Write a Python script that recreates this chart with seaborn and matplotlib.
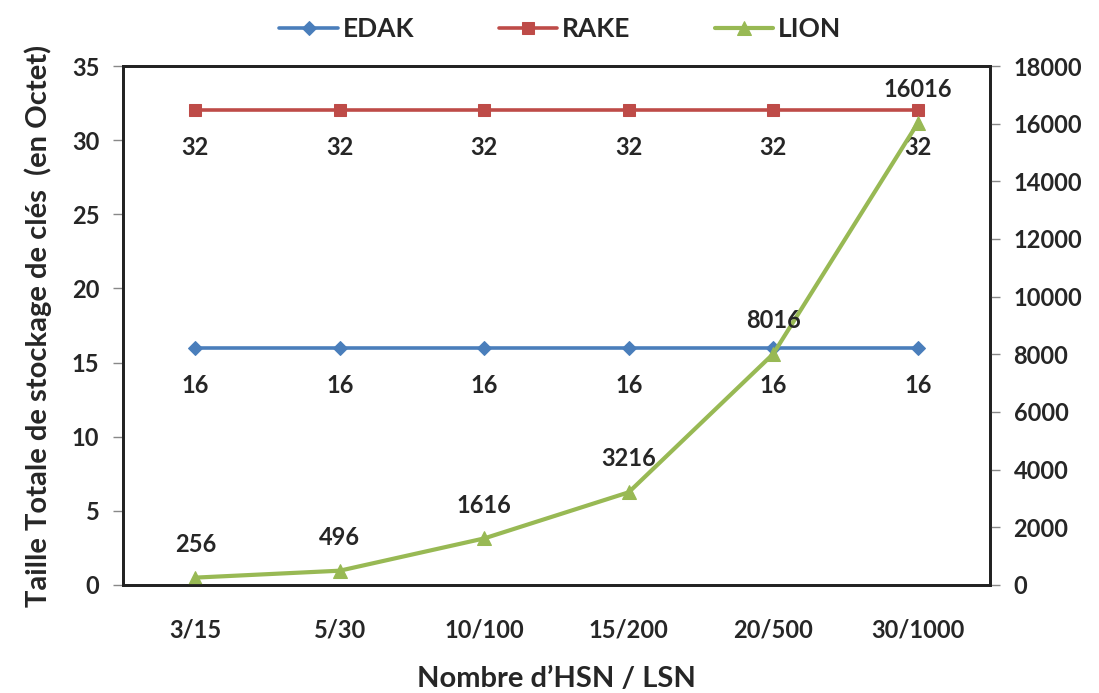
import matplotlib
matplotlib.use("Agg")
import matplotlib.pyplot as plt
import seaborn as sns
import pandas as pd
import numpy as np

# Chart data
categories = ["3/15", "5/30", "10/100", "15/200", "20/500", "30/1000"]
edak = [16, 16, 16, 16, 16, 16]
rake = [32, 32, 32, 32, 32, 32]
lion = [256, 496, 1616, 3216, 8016, 16016]

left_ticks = [0, 5, 10, 15, 20, 25, 30, 35]
right_ticks = [0, 2000, 4000, 6000, 8000, 10000, 12000, 14000, 16000, 18000]

sns.set_theme(style="white")
plt.rcParams['font.family'] = ['Lato', 'DejaVu Sans']
plt.rcParams['font.weight'] = 'bold'

df = pd.DataFrame({
    'pos': np.arange(len(categories)),
    'EDAK': edak,
    'RAKE': rake,
    'LION': lion,
})

fig, ax = plt.subplots(figsize=(10.99, 6.93), dpi=100)
fig.subplots_adjust(left=123/1099, right=990/1099, top=1-66/693, bottom=1-585/693)
ax2 = ax.twinx()

c_edak, c_rake, c_lion = "#4A7EBB", "#BE4B48", "#98B954"

sns.lineplot(data=df, x='pos', y='EDAK', ax=ax, color=c_edak, marker='D', markersize=7,
             linewidth=2.6, markeredgecolor=c_edak, label='EDAK', legend=False)
sns.lineplot(data=df, x='pos', y='RAKE', ax=ax, color=c_rake, marker='s', markersize=9,
             linewidth=2.6, markeredgecolor=c_rake, label='RAKE', legend=False)
sns.lineplot(data=df, x='pos', y='LION', ax=ax2, color=c_lion, marker='^', markersize=10,
             linewidth=3, markeredgecolor=c_lion, label='LION', legend=False)

# data labels
lab_fs = 17
for i, v in enumerate(rake):
    ax.annotate(str(v), (i, v), xytext=(0, -27), textcoords='offset points',
                ha='center', va='center', fontsize=lab_fs, fontweight='bold')
for i, v in enumerate(edak):
    ax.annotate(str(v), (i, v), xytext=(0, -27), textcoords='offset points',
                ha='center', va='center', fontsize=lab_fs, fontweight='bold')
for i, v in enumerate(lion):
    ax2.annotate(str(v), (i, v), xytext=(0, 24), textcoords='offset points',
                 ha='center', va='center', fontsize=lab_fs, fontweight='bold')

ax.set_xlim(-0.5, len(categories) - 0.5)
ax.set_ylim(0, 35)
ax2.set_ylim(0, 18000)
ax.set_yticks(left_ticks)
ax2.set_yticks(right_ticks)
ax.set_xticks(np.arange(len(categories)))
ax.set_xticklabels(categories)
ax.set_xticks(np.arange(len(categories) + 1) - 0.5, minor=True)

tick_fs = 17
ax.tick_params(axis='x', which='major', length=0, pad=24, labelsize=tick_fs)
ax.tick_params(axis='x', which='minor', length=7, width=1, color='#888888', direction='out')
ax.tick_params(axis='y', length=7, width=1, color='#888888', direction='out', labelsize=tick_fs, pad=10, left=True)
ax2.tick_params(axis='y', length=7, width=1, color='#888888', direction='out', labelsize=tick_fs, pad=10, right=True)
for lbl in ax.get_xticklabels() + ax.get_yticklabels() + ax2.get_yticklabels():
    lbl.set_fontweight('bold')

ax.set_xlabel("Nombre d’HSN / LSN", fontsize=21, fontweight='bold', labelpad=18)
ax.set_ylabel("Taille Totale de stockage de clés  (en Octet)", fontsize=21, fontweight='bold', labelpad=14)
ax2.set_ylabel("")

for a in (ax, ax2):
    for s in a.spines.values():
        s.set_color('#222222')
        s.set_linewidth(2)

handles = ax.get_lines() + ax2.get_lines()
handles = [h for h in handles if h.get_label() in ('EDAK', 'RAKE', 'LION')]
fig.legend(handles=handles, labels=[h.get_label() for h in handles], loc='upper center',
           bbox_to_anchor=(0.51, 1.01), ncol=3, frameon=False,
           handlelength=2.2, columnspacing=3.2, handletextpad=0.2, prop={'weight': 'bold', 'size': 19})

fig.savefig("out.png", dpi=100)
